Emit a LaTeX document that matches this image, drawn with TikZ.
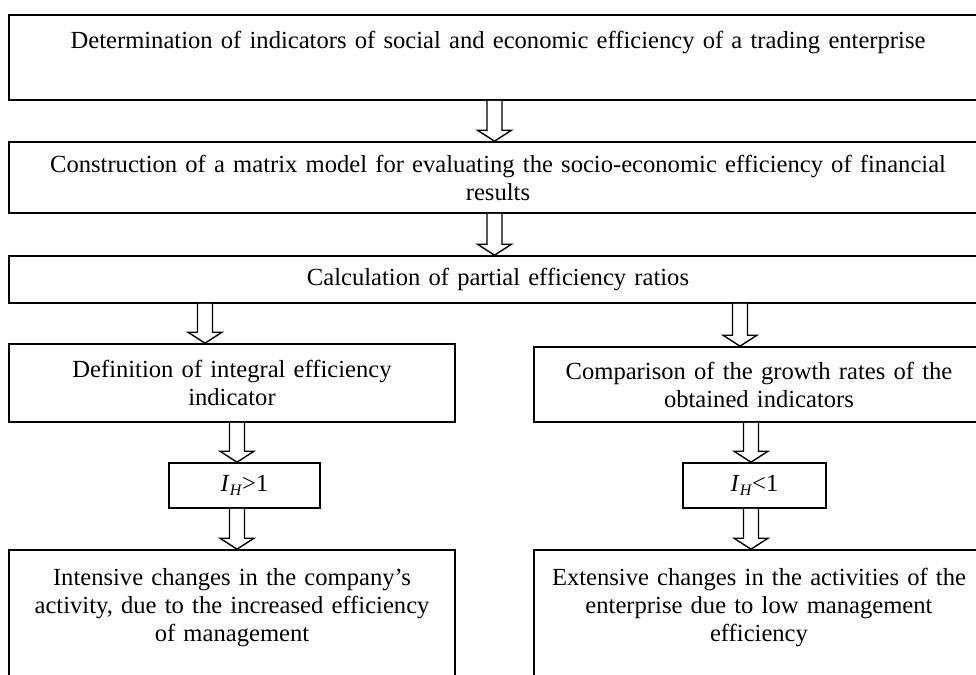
\documentclass[tikz,border=0pt]{standalone}
\usepackage{fontspec}
\setmainfont{Liberation Serif}
\usetikzlibrary{calc}

% hollow block arrow from one box down into the next, at a given x
\newcommand{\flowarrow}[3]{%
  \path (#1,0 |- #2.south) coordinate (from) (#1,0 |- #3.north) coordinate (to);
  \draw[hollow] ($(from)+(-7.5,0)$) -- ($(to)+(-7.5,-11)$) -- ($(to)+(-17,-11)$)
    -- (to) -- ($(to)+(17,-11)$) -- ($(to)+(7.5,-11)$) -- ($(from)+(7.5,0)$);
}

\tikzset{
  stage/.style={draw, line width=0.8pt, align=center, inner sep=2pt,
    font=\fontsize{12.3}{14}\selectfont},
  hollow/.style={draw, fill=white, line width=0.7pt, line join=miter},
}

\begin{document}
\begin{tikzpicture}[x=0.5pt, y=-0.5pt]
        \useasboundingbox (0,0) rectangle (976,675);
        \clip (0,0) rectangle (976,675);
        % Top row of full-width boxes
        \node[stage, minimum width=978*0.5pt, minimum height=85*0.5pt, text width=470pt] (title) at (498,57.5)
          {Determination of indicators of social and economic efficiency of a trading enterprise\\[4pt] \mbox{}};
        \node[stage, minimum width=978*0.5pt, minimum height=71*0.5pt, text width=470pt] (model) at (498,177.5)
          {Construction of a matrix model for evaluating the socio-economic efficiency of financial\\ results};
        \node[stage, minimum width=978*0.5pt, minimum height=47*0.5pt, text width=470pt] (ratios) at (498,279.5)
          {Calculation of partial efficiency ratios};
        % Left branch
        \node[stage, minimum width=446*0.5pt, minimum height=78*0.5pt, text width=218pt] (integral) at (232,383)
          {Definition of integral efficiency\\ indicator};
        \node[stage, minimum width=151*0.5pt, minimum height=45*0.5pt] (more) at (244.5,485.5)
          {\textit{I}\raisebox{-0.35ex}{\footnotesize\textit{H}}>1};
        \node[stage, minimum width=446*0.5pt, minimum height=138*0.5pt, text width=218pt] (intensive) at (232,619)
          {Intensive changes in the company’s\\ activity, due to the increased efficiency\\ of management\\ \mbox{}};
        % Right branch
        \node[stage, minimum width=450*0.5pt, minimum height=75*0.5pt, text width=220pt] (growth) at (759,384.5)
          {Comparison of the growth rates of the\\ obtained indicators};
        \node[stage, minimum width=143*0.5pt, minimum height=45*0.5pt] (less) at (754.5,485.5)
          {\textit{I}\raisebox{-0.35ex}{\footnotesize\textit{H}}<1};
        \node[stage, minimum width=450*0.5pt, minimum height=138*0.5pt, text width=220pt] (extensive) at (759,619)
          {Extensive changes in the activities of the\\ enterprise due to low management\\ efficiency\\ \mbox{}};
        % Arrows between the stages
        \flowarrow{494.5}{title}{model}
        \flowarrow{494.5}{model}{ratios}
        \flowarrow{205}{ratios}{integral}
        \flowarrow{740}{ratios}{growth}
        \flowarrow{237}{integral}{more}
        \flowarrow{751}{growth}{less}
        \flowarrow{237}{more}{intensive}
        \flowarrow{751}{less}{extensive}
    \end{tikzpicture}
\end{document}
